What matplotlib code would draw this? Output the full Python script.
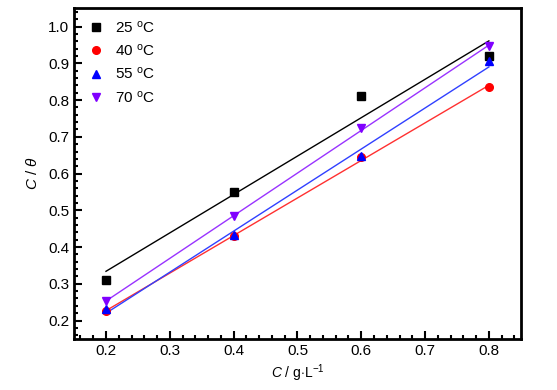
import matplotlib
matplotlib.use('Agg')
import matplotlib.pyplot as plt
import numpy as np
from matplotlib.ticker import MultipleLocator

plt.rcParams['font.family'] = ['Liberation Sans', 'DejaVu Sans']
plt.rcParams['mathtext.fontset'] = 'custom'
plt.rcParams['mathtext.rm'] = 'Liberation Sans'
plt.rcParams['mathtext.it'] = 'Liberation Sans:italic'

conc = [0.2, 0.4, 0.6, 0.8]
ratio_25 = [0.31, 0.55, 0.81, 0.92]
ratio_40 = [0.225, 0.43, 0.644, 0.835]
ratio_55 = [0.232, 0.434, 0.649, 0.905]
ratio_70 = [0.252, 0.484, 0.723, 0.946]

labels = [r'25 $^{\rm o}$C', r'40 $^{\rm o}$C', r'55 $^{\rm o}$C', r'70 $^{\rm o}$C']
colors = ['black', '#ff0000', '#0000ff', '#8000ff']
markers = ['s', 'o', '^', 'v']
fitcolors = ['black', '#ff3030', '#3040ff', '#9933ff']

fig = plt.figure(figsize=(5.57, 3.90), dpi=100)
ax = fig.add_axes([0.133, 0.131, 0.802, 0.848])

x = np.array(conc)
for ys, lab, c, m, fc in zip([ratio_25, ratio_40, ratio_55, ratio_70], labels, colors, markers, fitcolors):
    ys = np.array(ys)
    k, b = np.polyfit(x, ys, 1)
    ax.plot(x, k * x + b, color=fc, lw=1.0, zorder=2)
    ax.plot(x, ys, ls='none', marker=m, color=c, markersize=5.5, label=lab, zorder=3)

ax.set_xlim(0.15, 0.85)
ax.set_ylim(0.15, 1.05)
ax.xaxis.set_major_locator(MultipleLocator(0.1))
ax.xaxis.set_minor_locator(MultipleLocator(0.02))
ax.yaxis.set_major_locator(MultipleLocator(0.1))
ax.yaxis.set_minor_locator(MultipleLocator(0.02))
ax.tick_params(which='both', direction='in', top=False, right=False, labelsize=11, width=1.5)
ax.tick_params(which='major', length=5.5)
ax.tick_params(which='minor', length=2.7)
for s in ax.spines.values():
    s.set_linewidth(2)

ax.set_xlabel(r'$C$ / g$\cdot$L$^{-1}$', fontsize=10, labelpad=3)
ax.set_ylabel(r'$C$ / $\theta$', fontsize=11, labelpad=6)

ax.legend(loc='upper left', frameon=False, fontsize=11, handletextpad=0.5,
          labelspacing=0.47, borderaxespad=0.35, handlelength=1.4)

fig.savefig('out.png', dpi=100)
